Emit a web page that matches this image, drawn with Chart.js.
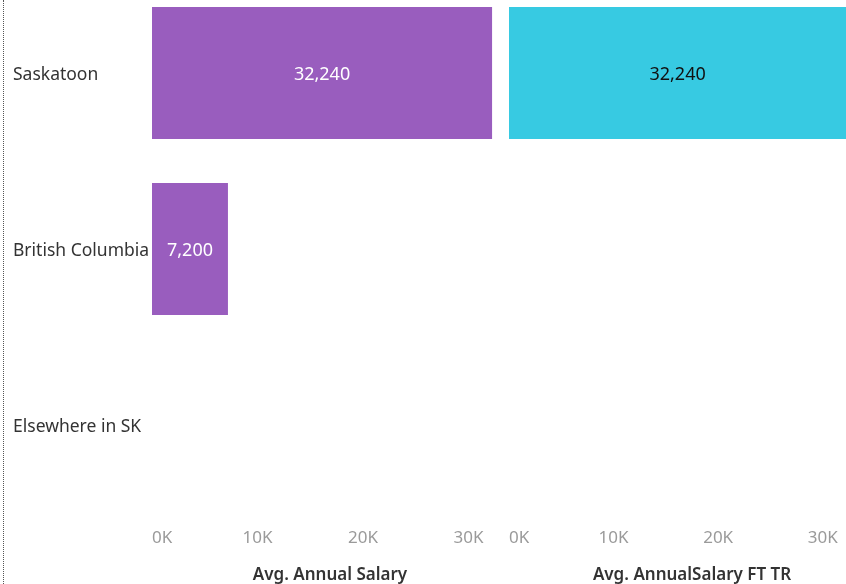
<!DOCTYPE html>
<html>
<head>
<meta charset="utf-8">
<script src="https://cdn.jsdelivr.net/npm/chart.js@4"></script>
<style>
	html, body { margin: 0; padding: 0; background: #fff; overflow: hidden; width: 846px; height: 584px; }
	canvas { position: absolute; top: -15px; }
	#leftChart { left: 0; }
	#rightChart { left: 509px; }
	#edge { position: absolute; left: 3px; top: 0; height: 584px; border-left: 1px dotted #555; }
</style>
</head>
<body>
<div id="edge"></div>
<canvas id="leftChart" width="508" height="599"></canvas>
<canvas id="rightChart" width="366" height="599"></canvas>
<script>
const cities = ["Saskatoon", "British Columbia", "Elsewhere in SK"]
const avgAnnualSalary = [32240, 7200, null]
const avgAnnualSalaryFtTr = [32240, null, null]
const tickValues = [0, 10000, 20000, 30000]

const FONT = "'Noto Sans', sans-serif"

// draws the value in the middle of each bar
const barLabels = {
	id: "barLabels",
	afterDatasetsDraw(chart) {
		const ctx = chart.ctx
		chart.data.datasets.forEach((ds, i) => {
			chart.getDatasetMeta(i).data.forEach((bar, j) => {
				const v = ds.data[j]
				if (v === null || v === undefined) return
				ctx.save()
				ctx.font = "18px " + FONT
				ctx.fillStyle = ds.labelColor
				ctx.textAlign = "center"
				ctx.textBaseline = "middle"
				ctx.fillText(v.toLocaleString("en-US"), (bar.x + bar.base) / 2, bar.y + 2)
				ctx.restore()
			})
		})
	}
}

// no extra room for labels that stick out of the plot
function noPadding(s) {
	s.paddingLeft = 0
	s.paddingRight = 0
	s.paddingTop = 0
	s.paddingBottom = 0
}

function makeChart(id, values, color, labelColor, title, max, showCities) {
	return new Chart(id, {
		type: "bar",
		data: {
			labels: cities,
			datasets: [{
				data: values,
				backgroundColor: color,
				labelColor: labelColor,
				barPercentage: 0.75,
				categoryPercentage: 1
			}]
		},
		options: {
			indexAxis: "y",
			responsive: false,
			animation: false,
			layout: { padding: { left: showCities ? 13 : 0, right: 0, top: 0, bottom: 0 } },
			plugins: { legend: { display: false }, tooltip: { enabled: false } },
			scales: {
				x: {
					min: 0,
					max: max,
					grid: { display: false, drawTicks: false },
					border: { display: false },
					afterBuildTicks: (s) => {
						s.ticks = tickValues.concat([max]).map(v => ({ value: v }))
					},
					afterFit: (s) => {
						s.height = 71
						noPadding(s)
					},
					ticks: {
						align: "inner",
						padding: 15,
						color: "#9a9a9a",
						font: { family: FONT, size: 17 },
						callback: (v) => tickValues.includes(v) ? v / 1000 + "K" : ""
					},
					title: {
						display: true,
						text: title,
						color: "#333",
						padding: { top: 0, bottom: -1 },
						font: { family: FONT, size: 17, weight: "600" }
					}
				},
				y: {
					display: showCities,
					grid: { display: false, drawTicks: false },
					border: { display: false },
					afterFit: (s) => {
						s.width = showCities ? 139 : 0
						noPadding(s)
					},
					ticks: {
						crossAlign: "far",
						labelOffset: 2,
						color: "#333",
						font: { family: FONT, size: 17.5 }
					}
				}
			}
		},
		plugins: [barLabels]
	})
}

makeChart("leftChart", avgAnnualSalary, "#995DBE", "#fff", "Avg. Annual Salary", 33750, true)
makeChart("rightChart", avgAnnualSalaryFtTr, "#37CAE2", "#111", "Avg. AnnualSalary FT TR", 35000, false)
</script>
</body>
</html>
